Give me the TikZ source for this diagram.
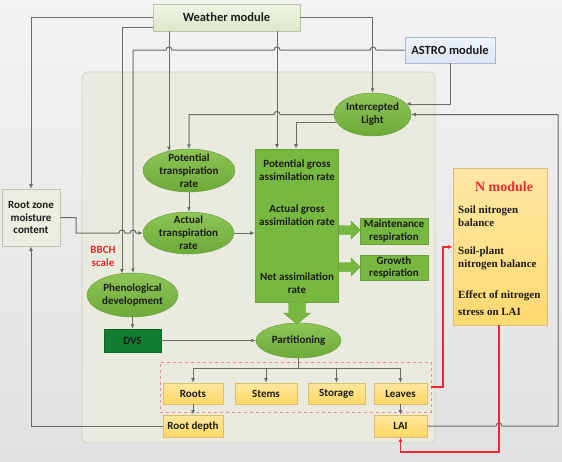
\documentclass[tikz,border=0pt]{standalone}
\usepackage{fontspec}
\setmainfont{Carlito}
\newfontfamily\nmodfont{Liberation Serif}
\usetikzlibrary{shapes.geometric,arrows.meta,calc}
\definecolor{bgtop}{HTML}{F3F3F3}
\definecolor{bgbot}{HTML}{E2E2E2}
\definecolor{panelfill}{HTML}{EAEBDE}
\definecolor{panelborder}{HTML}{CFCFC2}
\definecolor{linegray}{HTML}{6A6A6A}
\definecolor{redline}{HTML}{EC2A34}
\definecolor{ellt}{HTML}{8EC557}
\definecolor{ellb}{HTML}{6CAA38}
\definecolor{ellborder}{HTML}{6E9E45}
\definecolor{asmfill}{HTML}{77B840}
\definecolor{asmborder}{HTML}{6AA03A}
\definecolor{dvsfill}{HTML}{117D32}
\definecolor{yt}{HTML}{FFE7A0}
\definecolor{yb}{HTML}{FFD864}
\definecolor{yborder}{HTML}{DDBE6E}
\definecolor{wt}{HTML}{EEF4E4}
\definecolor{wb}{HTML}{DCE8C9}
\definecolor{wborder}{HTML}{B9C7A5}
\definecolor{at}{HTML}{EEF3FB}
\definecolor{ab}{HTML}{DDE6F4}
\definecolor{aborder}{HTML}{A7B8D2}
\definecolor{rzfill}{HTML}{EDEDE2}
\definecolor{rzborder}{HTML}{C3C3B3}
\definecolor{nt}{HTML}{FFE8A6}
\definecolor{nb}{HTML}{FFD970}
\definecolor{bbch}{HTML}{E02A2A}
\definecolor{txt}{HTML}{1C1C1C}
\begin{document}
\begin{tikzpicture}[x=1pt,y=-1pt,
  txtfont/.style={font=\bfseries\fontsize{11}{12.9}\selectfont, text=txt, align=center},
  conn/.style={draw=linegray, line width=1pt, -{Latex[length=4.5pt,width=4pt]}},
  plain/.style={draw=linegray, line width=1pt},
  redconn/.style={draw=redline, line width=1.2pt, -{Latex[length=4.5pt,width=4pt]}},
  ell/.style={ellipse, draw=ellborder, line width=0.5pt, top color=ellt, bottom color=ellb, inner sep=0pt},
  ybox/.style={rectangle, draw=yborder, line width=0.6pt, top color=yt, bottom color=yb, inner sep=0pt, txtfont},
  lbl/.style={txtfont, inner sep=0pt},
  blockarrow/.style={fill=asmfill, draw=asmborder, line width=0.4pt}
]
\useasboundingbox (0,0) rectangle (562,461);
\fill[top color=bgtop, bottom color=bgbot] (0,0) rectangle (562,461);

% panel
\node[draw=panelborder, fill=panelfill, rounded corners=6pt, line width=0.6pt,
      minimum width=353pt, minimum height=371pt, inner sep=0pt] (panel) at (258.5,257.5) {};

% dashed group
\node[draw=redline!55, dashed, line width=0.7pt, minimum width=271pt, minimum height=50pt, inner sep=0pt] (grp) at (295.5,387) {};

% top modules
\node[draw=wborder, top color=wt, bottom color=wb, line width=0.6pt, minimum width=147pt, minimum height=27pt, inner sep=0pt,
      font=\bfseries\fontsize{12.5}{14}\selectfont, text=txt] (weather) at (226.5,17.5) {Weather module};
\node[draw=aborder, top color=at, bottom color=ab, line width=0.6pt, minimum width=90pt, minimum height=26pt, inner sep=0pt,
      font=\bfseries\fontsize{12.5}{14}\selectfont, text=txt] (astro) at (450,50) {ASTRO module};

% root zone
\node[draw=rzborder, fill=rzfill, line width=0.6pt, minimum width=58pt, minimum height=57pt, inner sep=0pt, txtfont] (rz) at (31,217.5) {Root zone\\moisture\\content};

% ellipses
\node[ell, minimum width=77pt, minimum height=43pt] (il) at (372.5,114.5) {};
\node[lbl] (ilt) at (il) {Intercepted\\Light};
\node[ell, minimum width=92pt, minimum height=43pt] (ptr) at (189,170.5) {};
\node[lbl] (ptrt) at (ptr) {Potential\\transpiration\\rate};
\node[ell, minimum width=91pt, minimum height=42pt] (atr) at (188.5,233) {};
\node[lbl] (atrt) at (atr) {Actual\\transpiration\\rate};
\node[ell, minimum width=91pt, minimum height=44pt] (phe) at (132.5,295) {};
\node[lbl] (phet) at (phe) {Phenological\\development};
\node[ell, minimum width=85pt, minimum height=35pt] (part) at (298.5,340.5) {};
\node[lbl] (partt) at (part) {Partitioning};

% assimilation box
\node[draw=asmborder, fill=asmfill, line width=0.6pt, minimum width=83pt, minimum height=153pt, inner sep=0pt] (asm) at (296.5,225.5) {};
\node[lbl] (asm1) at (297,170.5) {Potential gross\\assimilation rate};
\node[lbl] (asm2) at (297,215.5) {Actual gross\\assimilation rate};
\node[lbl] (asm3) at (297,283.5) {Net assimilation\\rate};

\node[draw=asmborder, fill=asmfill, line width=0.6pt, minimum width=68pt, minimum height=26pt, inner sep=0pt, txtfont] (maint) at (394,231) {Maintenance\\respiration};
\node[draw=asmborder, fill=asmfill, line width=0.6pt, minimum width=68pt, minimum height=25pt, inner sep=0pt, txtfont] (growth) at (394,267.5) {Growth\\respiration};

% block arrows
\draw[blockarrow] (asm.east |- 0,225.5) -- (351,225.5) -- (351,221) -- (360,230) -- (351,239) -- (351,234.5) -- (asm.east |- 0,234.5) -- cycle;
\draw[blockarrow] (asm.east |- 0,262.5) -- (351,262.5) -- (351,258) -- (360,267) -- (351,276) -- (351,271.5) -- (asm.east |- 0,271.5) -- cycle;
\draw[blockarrow] (288.5,302) -- (288.5,313) -- (283.5,313) -- (297,324) -- (310.5,313) -- (305.5,313) -- (305.5,302) -- cycle;

% DVS
\node[draw=dvsfill!80!black, fill=dvsfill, line width=0.5pt, minimum width=57pt, minimum height=23pt, inner sep=0pt, txtfont] (dvs) at (132.5,340.5) {DVS};

% yellow boxes
\node[ybox, minimum width=60pt, minimum height=21pt] (roots) at (193,393.5) {Roots};
\node[ybox, minimum width=62pt, minimum height=21pt] (stems) at (266,393.5) {Stems};
\node[ybox, minimum width=57pt, minimum height=21pt] (storage) at (336.5,393.5) {Storage};
\node[ybox, minimum width=53pt, minimum height=21pt] (leaves) at (400.5,393.5) {Leaves};
\node[ybox, minimum width=60pt, minimum height=22pt] (rdepth) at (193,426) {Root depth};
\node[ybox, minimum width=53pt, minimum height=22pt] (lai) at (400.5,426) {LAI};

% N module
\node[draw=yborder, top color=nt, bottom color=nb, line width=0.6pt, minimum width=94pt, minimum height=157pt, inner sep=0pt] (nmod) at (500,246.5) {};
\node[font=\nmodfont\bfseries\fontsize{14}{16}\selectfont, text=redline, inner sep=0pt] (ntitle) at (504,187) {N module};
\node[font=\nmodfont\bfseries\fontsize{11}{13}\selectfont, text=txt, align=left, anchor=west, inner sep=0pt] (n1) at (458,216) {Soil nitrogen\\balance};
\node[font=\nmodfont\bfseries\fontsize{11}{13}\selectfont, text=txt, align=left, anchor=west, inner sep=0pt] (n2) at (458,258.5) {Soil-plant\\nitrogen balance};
\node[font=\nmodfont\bfseries\fontsize{11}{17}\selectfont, text=txt, align=left, anchor=west, inner sep=0pt] (n3) at (458,303.5) {Effect of nitrogen\\stress on LAI};

% BBCH
\node[font=\bfseries\fontsize{11}{13}\selectfont, text=bbch, align=center, inner sep=0pt] (bbchl) at (103,256) {BBCH\\scale};

% coordinates for connector ends
\coordinate (pheA) at (122,273.6);
\coordinate (pheB) at (133,273);
\coordinate (ptrA) at (169,151.1);
\coordinate (ilA) at (406.1,104);
\coordinate (ilB) at (336.4,122);

% connectors
\draw[conn] (weather.west) -| (rz.north);
\draw[conn] (weather.west |- 0,27) -- (122,27) -- (pheA);
\draw[conn] (weather.south -| 169,0) -- (ptrA);
\draw[conn] (weather.south -| 277,0) -- (asm.north -| 277,0);
\draw[conn] (weather.east) -| (il.north);
\draw[conn] (astro.west) -- (376,50) .. controls (376,46) and (370,46) .. (370,50)
   -- (280,50) .. controls (280,46) and (274,46) .. (274,50)
   -- (172,50) .. controls (172,46) and (166,46) .. (166,50) -- (133,50) -- (pheB);
\draw[conn] (astro.south) -- (450,104) -- (ilA);
\draw[conn] (il.west) -- (280,114.5) .. controls (280,110.5) and (274,110.5) .. (274,114.5) -- (189,114.5) -- (ptr.north);
\draw[conn] (ilB) -- (296,122) -- (asm.north -| 296,0);
\draw[conn] (lai.east) -- (496,426) .. controls (496,422) and (502,422) .. (502,426) -- (558,426) -- (558,114.5) -- (il.east);
\draw[conn] (rz.east) -- (76,217.5) -- (76,233) -- (119,233) .. controls (119,229) and (125,229) .. (125,233)
   -- (130,233) .. controls (130,229) and (136,229) .. (136,233) -- (atr.west);
\draw[conn] (ptr.south) -- (ptr.south |- atr.north);
\draw[conn] (atr.east) -- (asm.west |- atr.east);
\draw[conn] (phe.south) -- (dvs.north);
\draw[conn] (dvs.east) -- (part.west);
\draw[plain] (part.south) -- (298.5,368);
\draw[plain] (193,368) -- (400.5,368);
\draw[conn] (roots.north |- 0,368) -- (roots.north);
\draw[conn] (stems.north |- 0,368) -- (stems.north);
\draw[conn] (storage.north |- 0,368) -- (storage.north);
\draw[conn] (leaves.north |- 0,368) -- (leaves.north);
\draw[conn] (roots.south) -- (rdepth.north);
\draw[conn] (leaves.south) -- (lai.north);
\draw[conn] (rdepth.west) -| (rz.south);

% red connectors
\draw[redconn] (grp.east |- 0,387) -- (443,387) -- (443,247) -- (nmod.west |- 0,247);
\draw[redconn] (nmod.south -| 499,0) -- (499,452) -- (400.5,452) -- (lai.south);
\end{tikzpicture}
\end{document}
